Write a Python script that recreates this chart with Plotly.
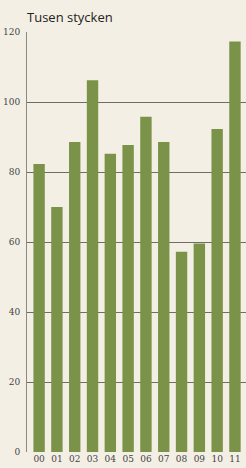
import plotly.graph_objects as go

years = ["00", "01", "02", "03", "04", "05", "06", "07", "08", "09", "10", "11"]
values = [82.3, 70.0, 88.6, 106.2, 85.2, 87.7, 95.8, 88.6, 57.2, 59.6, 92.3, 117.3]
y_ticks = [0, 20, 40, 60, 80, 100, 120]

bg = "#f3efe4"
bar_color = "#7b9349"

fig = go.Figure(go.Bar(x=list(range(len(years))), y=values, marker_color=bar_color,
                       marker_line_width=0, width=0.64))

fig.update_layout(
    width=246, height=468,
    margin=dict(l=27, r=0, t=32, b=16),
    paper_bgcolor=bg, plot_bgcolor=bg,
    showlegend=False,
    font=dict(family="DejaVu Serif", color="#444"),
    xaxis=dict(range=[-0.68, 11.62], tickmode="array", tickvals=list(range(len(years))),
               ticktext=years, showgrid=False, zeroline=False, ticks="",
               tickfont=dict(size=9, color="#444"), ticklabelstandoff=0),
    yaxis=dict(range=[0, 120], tickvals=y_ticks, showgrid=True, gridcolor="#6e6e66",
               gridwidth=0.8, zeroline=False, showline=True, linecolor="#8a8a80",
               linewidth=1, ticks="", tickfont=dict(size=9, color="#444"),
               ticklabelstandoff=4),
    annotations=[dict(text="Tusen stycken", xref="paper", yref="paper", x=-0.01, y=1.0,
                      xanchor="left", yanchor="bottom", yshift=4, showarrow=False,
                      font=dict(family="Open Sans", size=13, color="#222"))],
)

fig.write_html("out.html", config={"displayModeBar": False},
               post_script="document.body.style.margin='0px';document.body.style.background='%s';" % bg)
